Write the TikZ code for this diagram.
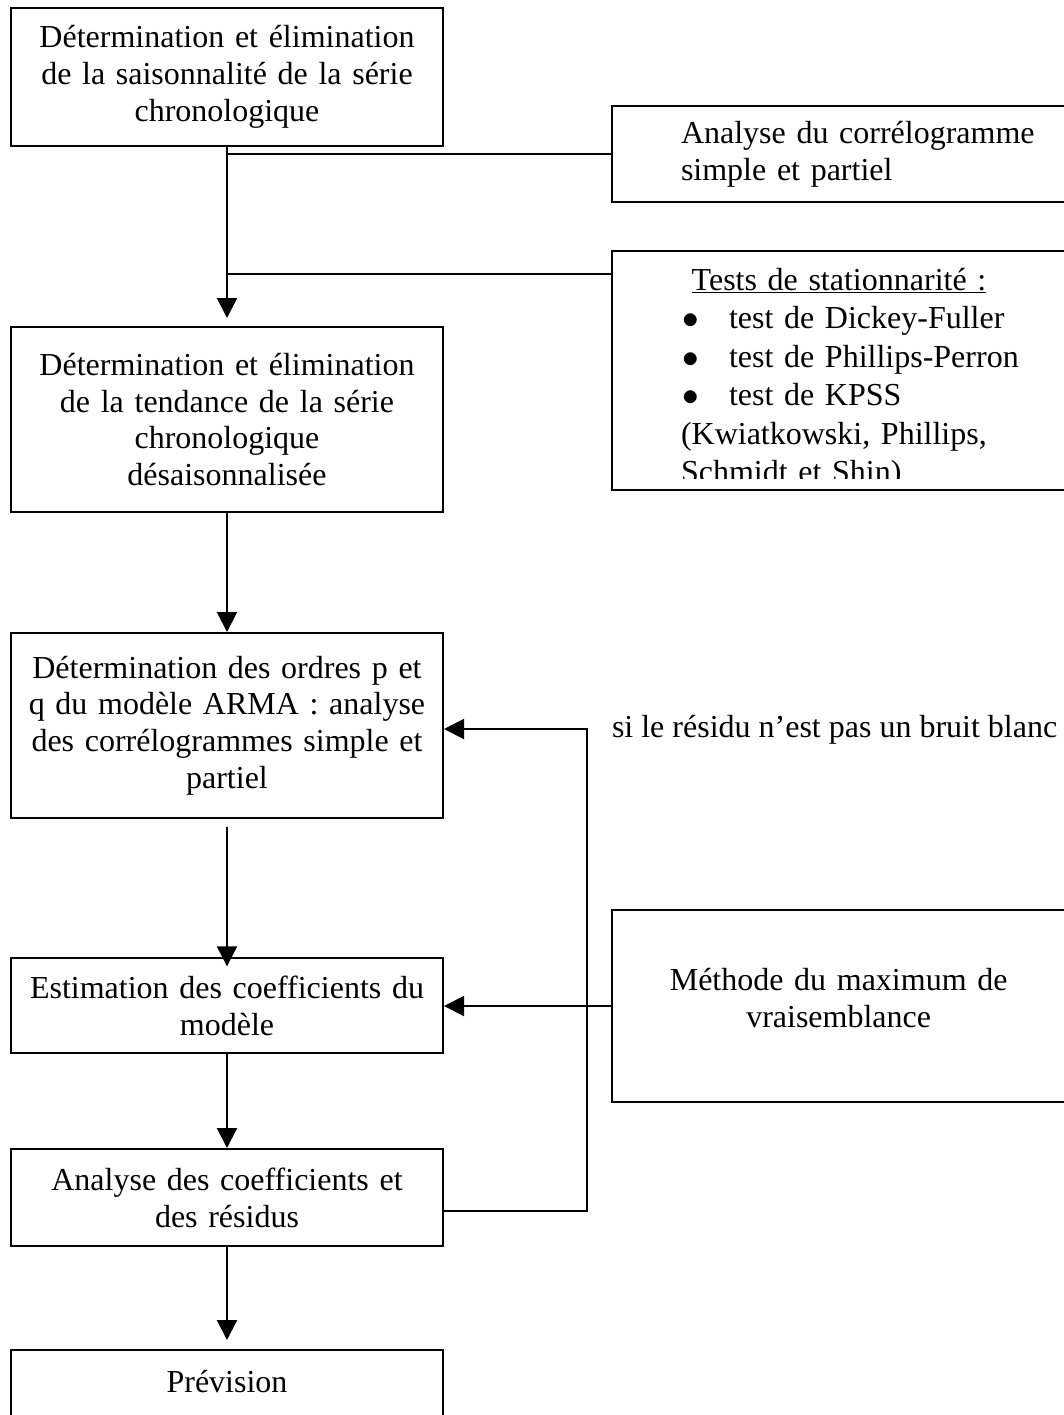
\documentclass[tikz,border=0pt]{standalone}
\usepackage{fontspec}
\setmainfont{Liberation Serif}
\usetikzlibrary{arrows.meta}

\begin{document}
\begin{tikzpicture}[x=0.75pt, y=-0.75pt, line width=1.5pt, -{Triangle[length=15pt, width=15pt]},
        font=\fontsize{24pt}{27.6pt}\selectfont,
        etape/.style ={rectangle, draw, minimum width=324pt, text width=314pt, align=center, inner xsep=5pt},
        cote/.style ={rectangle, draw, anchor=west, inner xsep=51.75pt, text width=270pt, align=left}]

        \useasboundingbox (0,0) rectangle (1064,1415);
        \clip (0,0) rectangle (1064,1415);

        %colonne principale
        \node[etape, minimum height=103.5pt] (b1) at (227,77) {Détermination et élimination\\de la saisonnalité de la série\\chronologique};
        \node[etape, minimum height=138.75pt] (b2) at (227,419.5) {Détermination et élimination\\de la tendance de la série\\chronologique\\désaisonnalisée};
        \node[etape, minimum height=138.75pt] (b3) at (227,725.5) {Détermination des ordres p et\\q du modèle ARMA : analyse\\des corrélogrammes simple et\\partiel};
        \node[etape, minimum height=71.25pt] (b4) at (227,1005.5) {Estimation des coefficients du\\modèle};
        \node[etape, minimum height=72.75pt] (b5) at (227,1197.5) {Analyse des coefficients et\\des résidus};
        \node[etape, anchor=north, text height=26pt, text depth=60pt, inner ysep=6pt] (b6) at (227,1349) {Prévision};

        %boites de droite
        \node[cote, minimum height=72pt] (corr) at (611,154) {Analyse du corrélogramme\\simple et partiel};
        \node[cote, anchor=north west, minimum height=179.25pt] (tests) at (611,250) {};
        \begin{scope}
            \clip (tests.north west) rectangle (1064,478);
            \node[anchor=north west, inner sep=0pt, text width=270pt, align=left,
                font=\fontsize{24pt}{28.9pt}\selectfont] (liste) at (680,267)
                {\makebox[237pt]{\underline{Tests de stationnarité :}}\\
                \makebox[36pt][l]{\hspace{1pt}$\bullet$}test de Dickey-Fuller\\
                \makebox[36pt][l]{\hspace{1pt}$\bullet$}test de Phillips-Perron\\
                \makebox[36pt][l]{\hspace{1pt}$\bullet$}test de KPSS\\
                (Kwiatkowski, Phillips,\\
                Schmidt et Shin)};
        \end{scope}
        \node[anchor=base west, inner sep=0pt] (residu) at (611,737) {si le résidu n’est pas un bruit blanc};
        \node[rectangle, draw, anchor=north west, minimum height=144pt, text width=320pt, inner xsep=10pt, text depth=40pt, align=center] (mle) at (611,909) {Méthode du maximum de\\vraisemblance};

        \path (b1) edge[shorten >=6pt] (b2);
        \path (b2) edge (b3);
        \path (b3) edge[shorten <=6pt, shorten >=-7pt] (b4);
        \path (b4) edge (b5);
        \path (b5) edge[shorten >=6.75pt] (b6);

        \coordinate (tjoin) at (611,274);
        \draw[-] (b1.south |- corr.west) -- (corr.west);
        \draw[-] (b1.south |- tjoin) -- (tjoin);

        \draw (mle.west) -- (mle.west -| b4.east);

        %si le residu n'est pas un bruit blanc
        \coordinate (fbbas) at (587,1211);
        \coordinate (fbhaut) at (587,729);
        \draw (b5.east |- fbbas) -- (fbbas) -- (fbhaut) -- (b3.east |- fbhaut);
    \end{tikzpicture}
\end{document}
